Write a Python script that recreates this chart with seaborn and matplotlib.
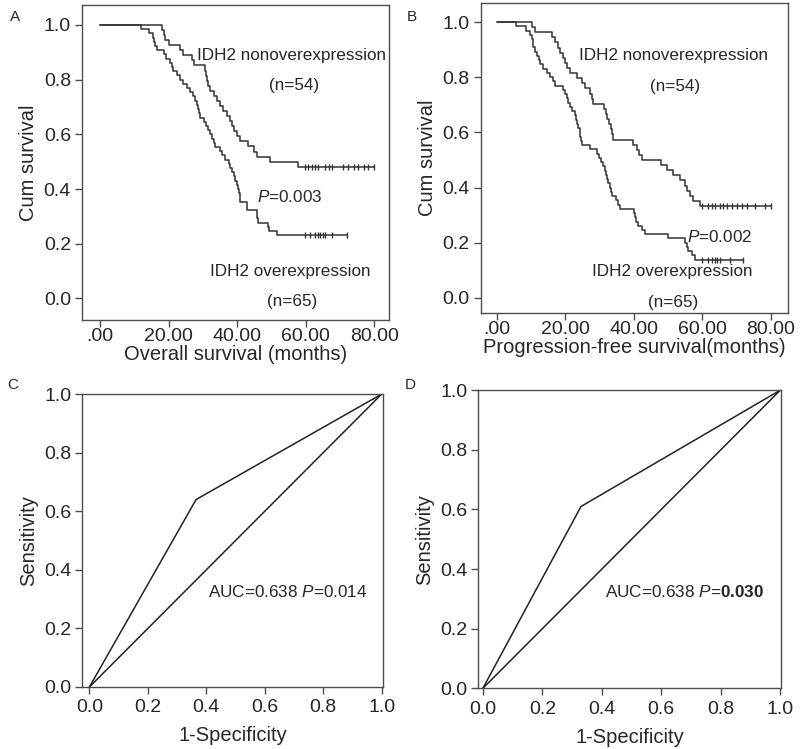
import numpy as np
import pandas as pd
import matplotlib
matplotlib.use("Agg")
import matplotlib.pyplot as plt
import seaborn as sns

# ---- data ----
# Kaplan-Meier, panel A (overall survival), months
a_hi_n = 54
a_hi_deaths = [18.0, 18.5, 19.0, 20.0, 23.4, 24.1, 26.8, 27.3, 30.7, 30.9,
               31.1, 31.6, 32.1, 33.1, 34.1, 35.0, 36.0, 37.0, 37.8, 38.4,
               39.2, 39.9, 40.9, 43.3, 44.8, 45.7, 49.6, 57.9]
a_hi_cens = [59.9, 60.8, 61.8, 61.8, 62.8, 62.8, 63.7, 65.7, 65.7, 66.7,
             66.7, 67.6, 67.6, 71.0, 71.0, 72.5, 72.5, 74.0, 74.0, 75.4,
             75.4, 76.9, 76.9, 78.3, 78.3, 80.0]
a_lo_n = 65
a_lo_deaths = [12.0, 14.3, 15.3, 15.6, 16.1, 16.5, 18.5, 19.3, 20.3, 20.9,
               21.4, 22.4, 23.4, 24.3, 25.3, 26.3, 27.0, 27.7, 28.3, 28.7,
               29.0, 29.2, 30.2, 31.0, 31.6, 32.1, 32.6, 33.1, 33.6, 35.0,
               35.5, 36.5, 37.5, 38.0, 38.4, 39.0, 39.4, 39.9, 40.2, 40.5,
               40.7, 40.9, 42.8, 42.8, 45.7, 45.8, 46.0, 49.1, 49.2, 51.6]
a_lo_cens = [59.9, 61.3, 62.8, 62.8, 63.5, 63.5, 64.2, 64.2, 65.0, 65.0,
             65.7, 65.7, 67.6, 67.6, 72.0]

# Kaplan-Meier, panel B (progression-free survival), months
b_hi_n = 54
b_hi_deaths = [10.2, 11.2, 16.1, 17.0, 18.0, 18.5, 19.5, 20.0, 20.4, 21.4,
               23.4, 24.8, 25.8, 27.3, 27.7, 28.0, 31.3, 31.9, 32.3, 32.9,
               33.3, 33.7, 34.1, 39.9, 40.9, 41.6, 42.3, 48.1, 49.6, 51.6,
               53.5, 55.0, 55.5, 56.4, 57.4, 59.4]
b_hi_cens = [59.8, 61.7, 62.7, 62.7, 63.7, 63.7, 65.1, 66.1, 66.1, 67.1,
             67.1, 68.6, 70.0, 71.5, 72.9, 75.4, 78.3, 80.0]
b_lo_n = 65
b_lo_deaths = [5.8, 8.7, 9.7, 10.2, 10.5, 10.7, 11.2, 11.7, 12.3, 12.8,
               13.6, 14.6, 15.6, 16.5, 17.0, 19.4, 19.9, 20.4, 20.9, 21.4,
               21.9, 22.8, 23.3, 23.6, 23.8, 24.2, 24.4, 24.6, 24.8, 27.2,
               29.2, 30.0, 30.4, 31.1, 31.6, 32.0, 32.2, 32.6, 33.0, 33.3,
               33.6, 34.8, 35.5, 36.0, 40.0, 40.3, 40.8, 41.3, 42.3, 43.3,
               50.1, 54.9, 55.4, 55.9, 56.9, 58.0]
b_lo_cens = [59.8, 61.7, 62.7, 62.7, 63.7, 64.2, 65.1, 68.1, 72.0]

km_xticks = [0, 20, 40, 60, 80]
km_xticklabels = [".00", "20.00", "40.00", "60.00", "80.00"]
unit_ticks = [0.0, 0.2, 0.4, 0.6, 0.8, 1.0]

# ROC curves (1-specificity, sensitivity)
c_fpr = [0.0, 0.365, 1.0]
c_tpr = [0.0, 0.64, 1.0]
d_fpr = [0.0, 0.33, 1.0]
d_tpr = [0.0, 0.61, 1.0]
diag = [0.0, 1.0]


def km_table(deaths, cens, n):
    """Kaplan-Meier step table plus the censor marks."""
    ev = pd.DataFrame({"t": deaths + cens,
                       "d": [1] * len(deaths) + [0] * len(cens)}).sort_values("t")
    at_risk = n
    s = 1.0
    xs, ys, cx, cy = [0.0], [1.0], [], []
    for t, grp in ev.groupby("t", sort=True):
        d = grp["d"].sum()
        c = len(grp) - d
        if d > 0:
            s *= (1 - d / at_risk)
            xs.append(t)
            ys.append(s)
        if c > 0:
            cx.append(t)
            cy.append(s)
        at_risk -= len(grp)
    xs.append(ev["t"].max())
    ys.append(s)
    return pd.DataFrame({"t": xs, "s": ys}), pd.DataFrame({"t": cx, "s": cy})


sns.set_style("ticks")
plt.rcParams["font.family"] = ["Liberation Sans", "DejaVu Sans"]
plt.rcParams["mathtext.fontset"] = "custom"
plt.rcParams["mathtext.rm"] = "Liberation Sans"
plt.rcParams["mathtext.it"] = "Liberation Sans:italic"
plt.rcParams["mathtext.bf"] = "Liberation Sans:bold"
plt.rcParams["axes.linewidth"] = 1.0
plt.rcParams["xtick.major.size"] = 5
plt.rcParams["ytick.major.size"] = 5

line_col = "#333333"
frame_col = "#4d4d4d"

fig = plt.figure(figsize=(8.0, 7.49), dpi=100)
ax_a = fig.add_axes([0.1025, 0.5728, 0.384, 0.4205])
ax_b = fig.add_axes([0.601, 0.582, 0.384, 0.414])
ax_c = fig.add_axes([0.103, 0.0828, 0.3755, 0.391])
ax_d = fig.add_axes([0.598, 0.081, 0.378, 0.398])


def style_axes(ax, xpad):
    for sp in ax.spines.values():
        sp.set_visible(True)
        sp.set_color(frame_col)
    ax.tick_params(axis="both", labelsize=14, color=frame_col, width=1.0,
                   direction="out")
    ax.tick_params(axis="x", pad=xpad)
    ax.tick_params(axis="y", pad=3)


def draw_km(ax, groups, xlim, ylim, xlabel, texts):
    for deaths, cens, n in groups:
        steps, marks = km_table(deaths, cens, n)
        sns.lineplot(data=steps, x="t", y="s", ax=ax, estimator=None, sort=False,
                     drawstyle="steps-post", color=line_col, linewidth=1.1)
        ax.plot(marks["t"], marks["s"], linestyle="none", marker="|",
                markersize=5, markeredgewidth=1.0, color=line_col)
    ax.set_xlim(*xlim)
    ax.set_ylim(*ylim)
    ax.set_xticks(km_xticks)
    ax.set_xticklabels(km_xticklabels)
    ax.set_yticks(unit_ticks)
    ax.set_yticklabels([f"{v:.1f}" for v in unit_ticks])
    ax.set_xlabel(xlabel, fontsize=14.5, labelpad=0)
    ax.set_ylabel("Cum survival", fontsize=14.5, labelpad=4)
    style_axes(ax, xpad=1)
    for x, y, s in texts:
        ax.text(x, y, s, ha="center", va="center", fontsize=12.3)


draw_km(ax_a,
        [(a_hi_deaths, a_hi_cens, a_hi_n), (a_lo_deaths, a_lo_cens, a_lo_n)],
        (-5.3, 84.4), (-0.079, 1.073), "Overall survival (months)",
        [(56.0, 0.89, "IDH2 nonoverexpression"),
         (56.5, 0.777, "(n=54)"),
         (55.5, 0.372, "$\\it{P}$=0.003"),
         (55.5, 0.097, "IDH2 overexpression"),
         (56.0, -0.012, "(n=65)")])

draw_km(ax_b,
        [(b_hi_deaths, b_hi_cens, b_hi_n), (b_lo_deaths, b_lo_cens, b_lo_n)],
        (-4.6, 85.0), (-0.055, 1.069), "Progression-free survival(months)",
        [(51.6, 0.88, "IDH2 nonoverexpression"),
         (52.1, 0.765, "(n=54)"),
         (65.2, 0.221, "$\\it{P}$=0.002"),
         (51.1, 0.094, "IDH2 overexpression"),
         (51.6, -0.015, "(n=65)")])


def draw_roc(ax, fpr, tpr, xlim, label_pos, p_text, p_bold):
    roc = pd.DataFrame({"fpr": fpr, "tpr": tpr})
    ref = pd.DataFrame({"fpr": diag, "tpr": diag})
    sns.lineplot(data=roc, x="fpr", y="tpr", ax=ax, estimator=None, sort=False,
                 color="#222222", linewidth=1.1)
    sns.lineplot(data=ref, x="fpr", y="tpr", ax=ax, estimator=None, sort=False,
                 color="#222222", linewidth=1.1)
    ax.set_xlim(*xlim)
    ax.set_ylim(0.0, 1.0)
    ax.set_xticks(unit_ticks)
    ax.set_xticklabels([f"{v:.1f}" for v in unit_ticks])
    ax.set_yticks(unit_ticks)
    ax.set_yticklabels([f"{v:.1f}" for v in unit_ticks])
    ax.set_xlabel("1-Specificity", fontsize=14.5, labelpad=7)
    ax.set_ylabel("Sensitivity", fontsize=14.5, labelpad=4)
    style_axes(ax, xpad=4)
    if p_bold:
        txt = "AUC=0.638 $\\it{P}$=$\\mathbf{" + p_text + "}$"
    else:
        txt = "AUC=0.638 $\\it{P}$=" + p_text
    ax.text(label_pos[0], label_pos[1], txt, ha="center", va="center",
            fontsize=12.3)


draw_roc(ax_c, c_fpr, c_tpr, (-0.024, 1.004), (0.68, 0.325), "0.014", False)
draw_roc(ax_d, d_fpr, d_tpr, (-0.015, 1.002), (0.679, 0.324), "0.030", True)

for lbl, x, y in [("A", 10, 17), ("B", 407, 17), ("C", 7, 385), ("D", 405, 385)]:
    fig.text(x / 800, 1 - y / 749, lbl, fontsize=11, ha="left", va="center")

fig.savefig("out.png", dpi=100)
